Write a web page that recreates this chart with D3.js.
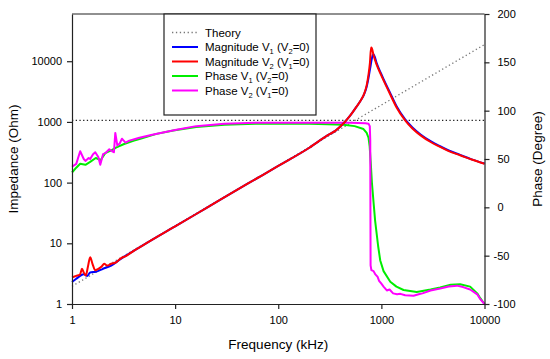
<!DOCTYPE html>
<html>
<head>
<meta charset="utf-8">
<script src="https://cdn.jsdelivr.net/npm/d3@7"></script>
<style>
  body { margin: 0; background: #fff; }
  svg { font-family: "Liberation Sans", Arial, sans-serif; }
</style>
</head>
<body>
<div id="chart"></div>
<script>
// theory: inductive magnitude (gray dotted) and 90 deg phase (black dotted)
const theoryMag = [[1, 1.96], [10000, 18800]];
const theoryPhase = [[1, 90], [10000, 90]];

// [frequency kHz, impedance Ohm]
const magV1 = [
  [1, 2.3], [1.1, 2.6], [1.2, 2.9], [1.3, 3.1], [1.4, 2.9], [1.5, 3.3], [1.7, 3.4],
  [2, 3.8], [2.4, 4.3], [3, 5.6], [4, 7.6], [5, 9.5], [7, 13.4], [10, 19], [20, 38],
  [50, 95], [100, 188], [200, 375], [300, 600], [360, 720], [430, 950], [500, 1280],
  [570, 1750], [630, 2250], [680, 2850], [720, 3800], [750, 5300], [780, 7800],
  [810, 11200], [835, 13000], [860, 12000], [900, 9300], [1000, 6100], [1050, 5050],
  [1200, 3150], [1400, 1830], [1700, 1100], [2000, 810], [2400, 620], [3000, 482],
  [3700, 398], [4500, 338], [5800, 286], [7500, 242], [10000, 206]
];
const magV2 = [
  [1, 2.75], [1.1, 2.9], [1.2, 3.1], [1.25, 3.8], [1.3, 3.3], [1.36, 2.95], [1.43, 4.2],
  [1.5, 5.9], [1.58, 4.6], [1.68, 3.6], [1.8, 3.8], [1.95, 4.2], [2.05, 4.6], [2.2, 4.3],
  [2.4, 4.6], [2.7, 4.9], [3, 5.7], [3.3, 6.1], [4, 7.6], [5, 9.5], [7, 13.4], [10, 19],
  [20, 38], [50, 95], [100, 188], [200, 375], [300, 600], [360, 720], [430, 950],
  [500, 1280], [570, 1750], [630, 2250], [680, 2900], [720, 4000], [750, 6000],
  [775, 9500], [795, 16800], [810, 16300], [840, 12500], [900, 8800], [1000, 5800],
  [1050, 4840], [1200, 3000], [1400, 1750], [1700, 1062], [2000, 780], [2400, 600],
  [3000, 467], [3700, 388], [4500, 330], [5800, 282], [7500, 240], [10000, 205]
];

// [frequency kHz, phase degree]
const phaseV1 = [
  [1, 36], [1.1, 41], [1.2, 45], [1.35, 44], [1.5, 47], [1.7, 51], [1.9, 49], [2.1, 56],
  [2.4, 59], [2.7, 62], [3.2, 65.5], [4, 69], [4.6, 71], [6.6, 76], [9.6, 79.5],
  [16, 83], [30, 85.5], [60, 86.5], [100, 86.5], [200, 86.5], [300, 86], [430, 85.5],
  [550, 84], [671, 81], [720, 77], [750, 72], [770, 63], [790, 45], [810, 25], [840, 5],
  [870, -14], [930, -40], [975, -55], [1050, -66], [1220, -77], [1400, -82],
  [1640, -85.5], [2200, -87.5], [3000, -85], [3720, -83], [4700, -80], [5800, -79.5],
  [7260, -82], [8500, -89], [9100, -94], [10000, -100]
];
const phaseV2 = [
  [1, 42], [1.1, 45], [1.2, 58], [1.3, 50], [1.35, 48], [1.45, 51], [1.5, 50], [1.6, 55],
  [1.68, 57], [1.8, 52], [1.88, 44], [2, 55], [2.1, 56], [2.3, 60], [2.45, 58],
  [2.55, 57], [2.63, 77], [2.75, 64], [2.9, 66], [3.05, 71], [3.3, 67], [3.6, 69],
  [4.5, 72], [6, 75], [10, 80], [16, 84], [30, 86.5], [60, 87.5], [100, 87.5],
  [300, 87.5], [500, 87.5], [700, 87], [750, 86.5], [772, 84], [780, 70], [783, 0],
  [786, -60], [800, -65], [840, -66], [870, -69], [920, -72], [950, -76], [1000, -79],
  [1050, -82], [1130, -86], [1200, -85], [1300, -89], [1420, -90], [1530, -89.5],
  [1700, -91], [2050, -91.5], [2300, -90], [2500, -89], [3000, -86], [3720, -84],
  [4500, -82], [5400, -81], [6200, -82.5], [7260, -85], [8500, -90], [9100, -95],
  [10000, -100]
];

const xTicks = [1, 10, 100, 1000, 10000];
const yLeftTicks = [1, 10, 100, 1000, 10000];
const yRightTicks = [-100, -50, 0, 50, 100, 150, 200];

const margins = { top: 14, left: 72, right: 65.5, bot: 55 };
const width = 550, height = 359;
const chartWidth = width - margins.left - margins.right;
const chartHeight = height - margins.top - margins.bot;

const xScale = d3.scaleLog().domain([1, 10000]).range([0, chartWidth]);
const yMag = d3.scaleLog().domain([1, 60000]).range([chartHeight, 0]);
const yPhase = d3.scaleLinear().domain([-100, 200]).range([chartHeight, 0]);

const svg = d3.select("#chart").append("svg")
  .attr("width", width).attr("height", height);
const g = svg.append("g")
  .attr("transform", `translate(${margins.left},${margins.top})`);

const magLine = d3.line().curve(d3.curveMonotoneX)
  .x((d) => xScale(d[0])).y((d) => yMag(d[1]));
const phaseLine = d3.line().x((d) => xScale(d[0])).y((d) => yPhase(d[1]));

// theory
g.append("path").datum(theoryMag).attr("d", magLine)
  .attr("fill", "none").attr("stroke", "#777").attr("stroke-width", 1.3)
  .attr("stroke-dasharray", "1.3,2.6");
g.append("path").datum(theoryPhase).attr("d", phaseLine)
  .attr("fill", "none").attr("stroke", "#222").attr("stroke-width", 1.2)
  .attr("stroke-dasharray", "1.3,2.4");

const series = [
  { data: phaseV1, line: phaseLine, color: "#00ee00" },
  { data: phaseV2, line: phaseLine, color: "#ff00ff" },
  { data: magV1, line: magLine, color: "#0000ff" },
  { data: magV2, line: magLine, color: "#ff0000" },
];
series.forEach((s) => {
  g.append("path").datum(s.data).attr("d", s.line)
    .attr("fill", "none").attr("stroke", s.color).attr("stroke-width", 2)
    .attr("stroke-linejoin", "round");
});

// axes
const fmt = (d) => String(d);
const styleAxis = (sel) => {
  sel.selectAll("path, line").attr("stroke", "#222").attr("stroke-width", 1.2);
  sel.selectAll("text").attr("font-size", 11).attr("fill", "#000")
    .attr("font-family", '"Liberation Sans", Arial, sans-serif');
};
g.append("g").attr("transform", `translate(0,${chartHeight})`)
  .call(d3.axisBottom(xScale).tickValues(xTicks).tickFormat(fmt)
    .tickSize(5).tickSizeOuter(0).tickPadding(7))
  .call(styleAxis);
g.append("g")
  .call(d3.axisLeft(yMag).tickValues(yLeftTicks).tickFormat(fmt)
    .tickSize(5).tickSizeOuter(0).tickPadding(5))
  .call(styleAxis);
g.append("g").attr("transform", `translate(${chartWidth},0)`)
  .call(d3.axisRight(yPhase).tickValues(yRightTicks).tickFormat(fmt)
    .tickSize(5).tickSizeOuter(0).tickPadding(8))
  .call(styleAxis)
  .selectAll("text").attr("dx", (d) => (d < 0 ? -4 : 0));
g.append("line").attr("x1", 0).attr("x2", chartWidth).attr("y1", 0).attr("y2", 0)
  .attr("stroke", "#222").attr("stroke-width", 1.2);

// titles
g.append("text").text("Frequency (kHz)").attr("text-anchor", "middle")
  .attr("x", chartWidth / 2).attr("y", chartHeight + 45).attr("font-size", 13.5);
g.append("text").text("Impedance (Ohm)").attr("text-anchor", "middle")
  .attr("transform", "rotate(-90)").attr("x", -chartHeight / 2).attr("y", -54)
  .attr("font-size", 13.5);
g.append("text").text("Phase (Degree)").attr("text-anchor", "middle")
  .attr("transform", "rotate(-90)").attr("x", -chartHeight / 2)
  .attr("y", chartWidth + 57).attr("font-size", 13.5);

// legend
const legendItems = [
  { parts: [["Theory"]], color: "#777", dash: "1.3,2.6", width: 1.3 },
  { parts: [["Magnitude V"], ["1", true], [" (V"], ["2", true], ["=0)"]], color: "#0000ff" },
  { parts: [["Magnitude V"], ["2", true], [" (V"], ["1", true], ["=0)"]], color: "#ff0000" },
  { parts: [["Phase V"], ["1", true], [" (V"], ["2", true], ["=0)"]], color: "#00ee00" },
  { parts: [["Phase V"], ["2", true], [" (V"], ["1", true], ["=0)"]], color: "#ff00ff" },
];
const legend = svg.append("g").attr("transform", "translate(164,14)");
legend.append("rect").attr("x", 0).attr("y", 0).attr("width", 152).attr("height", 101)
  .attr("fill", "#fff").attr("stroke", "#222").attr("stroke-width", 1.2);
legendItems.forEach((item, i) => {
  const cy = 18.5 + i * 14.5;
  legend.append("line").attr("x1", 8).attr("x2", 34).attr("y1", cy).attr("y2", cy)
    .attr("stroke", item.color).attr("stroke-width", item.width || 2)
    .attr("stroke-dasharray", item.dash || null);
  const t = legend.append("text").attr("x", 41).attr("y", cy + 4).attr("font-size", 11.5);
  item.parts.forEach(([txt, sub]) => {
    const span = t.append("tspan").text(txt);
    if (sub) span.attr("font-size", 7.5).attr("dy", 3);
    else if (t.selectAll("tspan").size() > 1) span.attr("dy", -3);
  });
});
</script>
</body>
</html>
